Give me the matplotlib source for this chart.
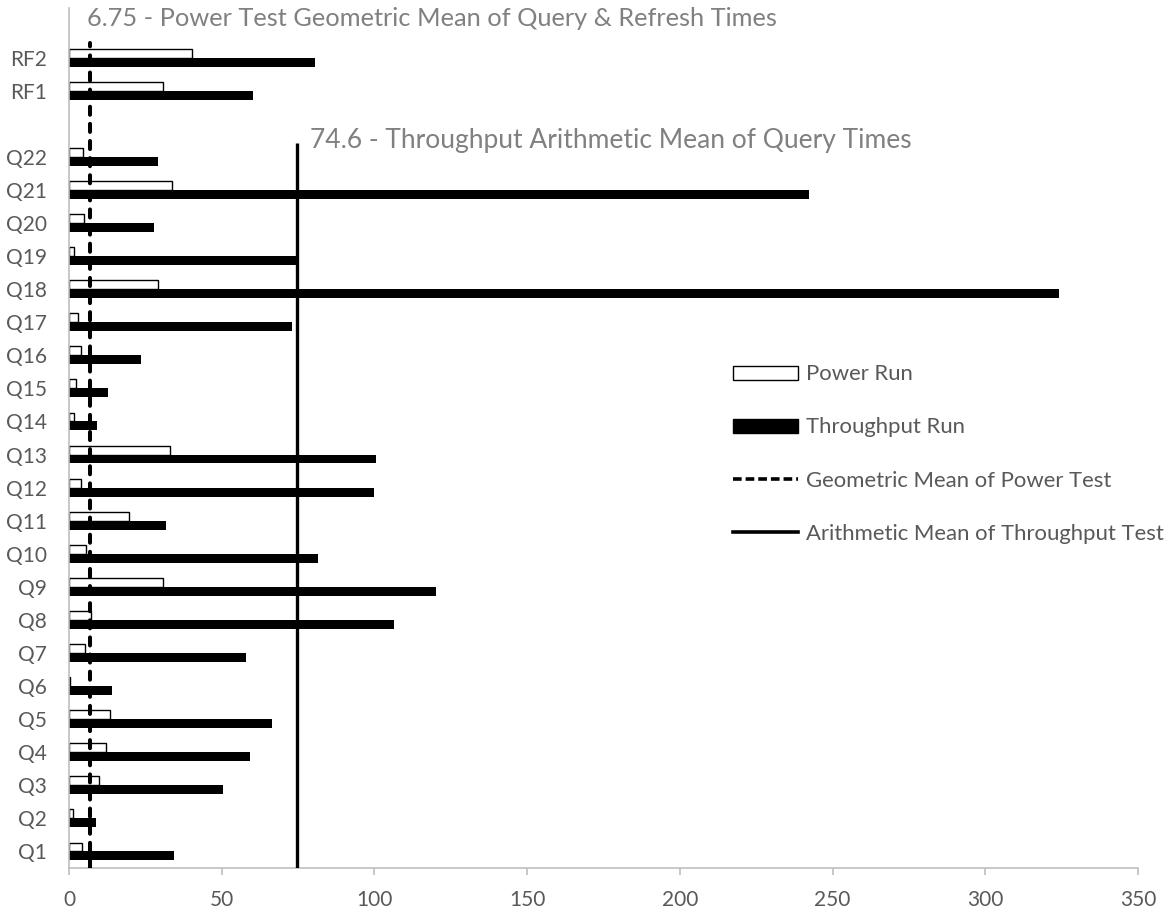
import matplotlib
matplotlib.use("Agg")
import matplotlib.pyplot as plt
from matplotlib.patches import Patch
from matplotlib.lines import Line2D
from matplotlib.transforms import Bbox, TransformedBbox
import numpy as np

plt.rcParams['font.family'] = ['Lato', 'DejaVu Sans']

query_labels = [f"Q{i}" for i in range(1, 23)]
refresh_labels = ["RF1", "RF2"]

power_run = [4.4, 1.2, 9.7, 12.2, 13.3, 0.3, 5.2, 7.3, 30.9, 5.6, 19.6,
             3.8, 33.2, 1.6, 2.2, 3.8, 3.1, 29.1, 1.5, 4.9, 33.7, 4.5,
             30.7, 40.3]
throughput_run = [34.3, 9.0, 50.4, 59.1, 66.6, 14.2, 57.9, 106.5, 120.2, 81.4,
                  31.9, 100.0, 100.6, 9.2, 12.9, 23.7, 72.9, 324.2, 74.3, 27.8,
                  242.3, 29.0, 60.3, 80.7]

geo_mean_power = 6.75
arith_mean_throughput = 74.6
geo_text = "6.75 - Power Test Geometric Mean of Query & Refresh Times"
arith_text = "74.6 - Throughput Arithmetic Mean of Query Times"
x_ticks = [0, 50, 100, 150, 200, 250, 300, 350]

labels = query_labels + refresh_labels
# positions: queries, one empty slot, then refresh functions
pos = np.array(list(range(len(query_labels))) +
               [len(query_labels) + 1 + i for i in range(len(refresh_labels))], dtype=float)

fig = plt.figure(figsize=(11.69, 9.10), dpi=100)
ax = fig.add_axes([69/1169, 1-868/910, (1138-69)/1169, 860/910])

h = 0.27
ax.barh(pos + h/2, power_run, height=h, color='white', edgecolor='black', linewidth=1.0, zorder=2)
ax.barh(pos - h/2, throughput_run, height=h, color='black', edgecolor='none', zorder=2)

ax.plot([geo_mean_power, geo_mean_power], [-0.5, 24.45], color='black', lw=2.9,
        linestyle=(0, (2.0, 2.25)), dash_capstyle='round', zorder=3)
ax.plot([arith_mean_throughput, arith_mean_throughput], [-0.5, 21.42], color='black', lw=2.4,
        solid_capstyle='butt', zorder=3)

txt_col = '#808080'
ax.text(geo_mean_power - 0.8, 24.95, geo_text, fontsize=18.3, color=txt_col,
        ha='left', va='baseline')
t2 = ax.text(arith_mean_throughput + 4.2, 21.27, arith_text, fontsize=19, color=txt_col,
             ha='left', va='baseline')
t2.set_clip_on(True)
t2.set_clip_box(TransformedBbox(Bbox([[0, 21.05], [350, 26]]), ax.transData))

ax.set_xlim(0, 350)
ax.set_ylim(-0.5, 25.5)
ax.set_xticks(x_ticks)
ax.set_yticks(pos)
ax.set_yticklabels(labels)

for s in ['top', 'right']:
    ax.spines[s].set_visible(False)
ax.spines['left'].set_color('#bfbfbf')
ax.spines['bottom'].set_color('#bfbfbf')
ax.spines['left'].set_linewidth(1.2)
ax.spines['bottom'].set_linewidth(1.2)
ax.tick_params(axis='y', length=0, pad=16, labelsize=15, labelcolor='#595959')
ax.tick_params(axis='x', length=5, width=1.2, color='#bfbfbf', pad=11, labelsize=15,
               labelcolor='#595959')

handles = [
    Patch(facecolor='white', edgecolor='black', linewidth=1.0),
    Patch(facecolor='black', edgecolor='black'),
    Line2D([0], [0], color='black', lw=2.6, linestyle=(0, (2.4, 1.1))),
    Line2D([0], [0], color='black', lw=2.6),
]
leg_labels = ["Power Run", "Throughput Run", "Geometric Mean of Power Test",
              "Arithmetic Mean of Throughput Test"]
leg = fig.legend(handles, leg_labels, loc='center left',
                 bbox_to_anchor=(733/1169, 1-454/910), frameon=False,
                 fontsize=15.9, handlelength=2.95, handleheight=0.6,
                 handletextpad=0.36, labelspacing=1.5, borderpad=0, borderaxespad=0)
for t in leg.get_texts():
    t.set_color('#595959')

fig.savefig('out.png', dpi=100)
